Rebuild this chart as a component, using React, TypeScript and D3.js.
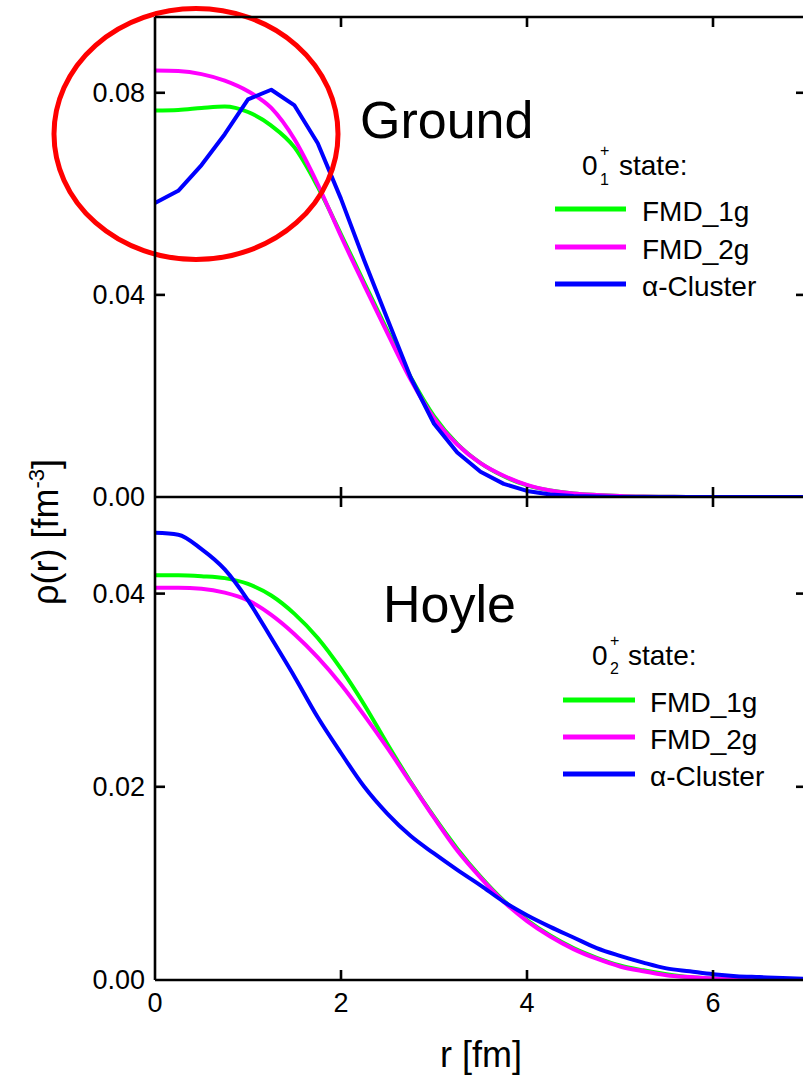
import React from 'react';
import * as d3 from 'd3';

// r grid [fm]
const R = [0, 0.25, 0.5, 0.75, 1, 1.25, 1.5, 1.75, 2, 2.25, 2.5, 2.75, 3, 3.25, 3.5, 3.75, 4, 4.25, 4.5, 4.75, 5, 5.25, 5.5, 5.75, 6, 6.25, 6.5, 6.75, 7];

// Ground state 0+_1 densities
const groundFMD1g = [0.0765, 0.0766, 0.0770, 0.0773, 0.0762, 0.0735, 0.0692, 0.0614, 0.0520, 0.0424, 0.0329, 0.0237, 0.0160, 0.0105, 0.0067, 0.0041, 0.0023, 0.0013, 0.0007, 0.0004, 0.0002, 0.0001, 0.00005, 0, 0, 0, 0, 0, 0];
const groundFMD2g = [0.0844, 0.0843, 0.0837, 0.0824, 0.0803, 0.0770, 0.0708, 0.0619, 0.0516, 0.0419, 0.0324, 0.0232, 0.0156, 0.0104, 0.0067, 0.0042, 0.0024, 0.0013, 0.0007, 0.0004, 0.0002, 0.0001, 0.00005, 0, 0, 0, 0, 0, 0];
const groundCluster = [0.0582, 0.0606, 0.0657, 0.0718, 0.0787, 0.0806, 0.0775, 0.0700, 0.0590, 0.0468, 0.0352, 0.0236, 0.0145, 0.0088, 0.0050, 0.0026, 0.0012, 0.0005, 0.0002, 0.0001, 0, 0, 0, 0, 0, 0, 0, 0, 0];

// Hoyle state 0+_2 densities
const hoyleFMD1g = [0.0419, 0.0419, 0.0418, 0.0416, 0.0410, 0.0398, 0.0379, 0.0354, 0.0322, 0.0285, 0.0244, 0.0205, 0.0169, 0.0136, 0.0107, 0.0082, 0.0062, 0.0046, 0.0033, 0.0023, 0.0015, 0.0010, 0.0006, 0.0003, 0.00015, 0.0001, 0.00005, 0, 0];
const hoyleFMD2g = [0.0406, 0.0406, 0.0405, 0.0401, 0.0393, 0.0378, 0.0358, 0.0334, 0.0306, 0.0274, 0.0240, 0.0204, 0.0168, 0.0134, 0.0106, 0.0081, 0.0061, 0.0045, 0.0032, 0.0022, 0.0014, 0.0009, 0.0005, 0.0003, 0.00015, 0.0001, 0.00005, 0, 0];
const hoyleCluster = [0.0463, 0.0461, 0.0446, 0.0425, 0.0393, 0.0354, 0.0314, 0.0272, 0.0235, 0.0200, 0.0172, 0.0149, 0.0131, 0.0114, 0.0098, 0.0081, 0.0067, 0.0055, 0.0044, 0.0033, 0.0025, 0.0018, 0.0012, 0.0009, 0.0006, 0.0004, 0.0003, 0.0002, 0.00013];

const xTicks = [0, 2, 4, 6];
const topYTicks = [0.04, 0.08];
const botYTicks = [0.02, 0.04];
const seriesNames = ['FMD_1g', 'FMD_2g', 'α-Cluster'];
const seriesColors = ['#00ff00', '#ff00ff', '#0000ff'];

const FONT = '"Liberation Sans", Arial, Helvetica, sans-serif';

export default function App() {
  const W = 803, H = 1082;
  const left = 155, right = 806, top = 17, mid = 497, bottom = 980;
  const x = d3.scaleLinear().domain([0, 7]).range([left, right]);
  const yTop = d3.scaleLinear().domain([0, 0.095]).range([mid, top]);
  const yBot = d3.scaleLinear().domain([0, 0.05]).range([bottom, mid]);

  const mk = (y: d3.ScaleLinear<number, number>, curve: d3.CurveFactory) =>
    d3.line<number>().x((_, i) => x(R[i])).y((d) => y(d)).curve(curve);

  const topLines = [
    { d: mk(yTop, d3.curveMonotoneX)(groundFMD1g), c: seriesColors[0] },
    { d: mk(yTop, d3.curveMonotoneX)(groundFMD2g), c: seriesColors[1] },
    { d: mk(yTop, d3.curveLinear)(groundCluster), c: seriesColors[2] },
  ];
  const botLines = [
    { d: mk(yBot, d3.curveMonotoneX)(hoyleFMD1g), c: seriesColors[0] },
    { d: mk(yBot, d3.curveMonotoneX)(hoyleFMD2g), c: seriesColors[1] },
    { d: mk(yBot, d3.curveMonotoneX)(hoyleCluster), c: seriesColors[2] },
  ];

  const axisW = 2.6;
  const tickLen = 10;
  const tickFs = 27;

  const legend = (lineX0: number, lineX1: number, textX: number, ys: number[]) =>
    seriesNames.map((n, i) => (
      <g key={n}>
        <line x1={lineX0} x2={lineX1} y1={ys[i]} y2={ys[i]} stroke={seriesColors[i]} strokeWidth={5} />
        <text x={textX} y={ys[i] + 12} fontSize={28} fontFamily={FONT} fill="#000">{n}</text>
      </g>
    ));

  return (
    <svg width={W} height={H} style={{ position: 'absolute', left: 0, top: 0, background: '#fff' }}>
      <defs>
        <clipPath id="clipTop"><rect x={left} y={top} width={right - left} height={mid - top} /></clipPath>
        <clipPath id="clipBot"><rect x={left} y={mid} width={right - left} height={bottom - mid} /></clipPath>
      </defs>
      <rect x={0} y={0} width={W} height={H} fill="#fff" />

      {/* curves */}
      <g clipPath="url(#clipTop)" fill="none" strokeWidth={4} strokeLinejoin="round">
        {topLines.map((l, i) => <path key={i} d={l.d || ''} stroke={l.c} />)}
      </g>
      <g clipPath="url(#clipBot)" fill="none" strokeWidth={4} strokeLinejoin="round">
        {botLines.map((l, i) => <path key={i} d={l.d || ''} stroke={l.c} />)}
      </g>

      {/* red ellipse */}
      <ellipse cx={196} cy={134} rx={142} ry={125.5} fill="none" stroke="#ff0000" strokeWidth={5} />

      {/* frame */}
      <g stroke="#000" strokeWidth={axisW} fill="none">
        <line x1={left} x2={left} y1={top} y2={bottom} />
        <line x1={right} x2={right} y1={top} y2={bottom} />
        <line x1={left} x2={right} y1={top} y2={top} />
        <line x1={left} x2={right} y1={mid} y2={mid} />
        <line x1={left} x2={right} y1={bottom} y2={bottom} />
        {xTicks.filter((t) => t > 0).map((t) => (
          <g key={t}>
            <line x1={x(t)} x2={x(t)} y1={top} y2={top + tickLen} />
            <line x1={x(t)} x2={x(t)} y1={mid - tickLen} y2={mid + tickLen} />
            <line x1={x(t)} x2={x(t)} y1={bottom - tickLen} y2={bottom} />
          </g>
        ))}
        {topYTicks.map((t) => (
          <g key={'t' + t}>
            <line x1={left} x2={left + tickLen} y1={yTop(t)} y2={yTop(t)} />
            <line x1={right - tickLen} x2={right} y1={yTop(t)} y2={yTop(t)} />
          </g>
        ))}
        {botYTicks.map((t) => (
          <g key={'b' + t}>
            <line x1={left} x2={left + tickLen} y1={yBot(t)} y2={yBot(t)} />
            <line x1={right - tickLen} x2={right} y1={yBot(t)} y2={yBot(t)} />
          </g>
        ))}
      </g>

      {/* tick labels */}
      <g fontFamily={FONT} fontSize={tickFs} fill="#000">
        {[0, ...topYTicks].map((t) => (
          <text key={'tl' + t} x={left - 10} y={yTop(t)} textAnchor="end" dominantBaseline="central">{t.toFixed(2)}</text>
        ))}
        {[0, ...botYTicks].map((t) => (
          <text key={'bl' + t} x={left - 10} y={yBot(t)} textAnchor="end" dominantBaseline="central">{t.toFixed(2)}</text>
        ))}
        {xTicks.map((t) => (
          <text key={'xl' + t} x={x(t)} y={1012} textAnchor="middle">{t}</text>
        ))}
      </g>

      {/* axis titles */}
      <text x={481} y={1067} textAnchor="middle" fontFamily={FONT} fontSize={36}>r [fm]</text>
      <text transform="translate(58,532) rotate(-90)" textAnchor="middle" fontFamily={FONT} fontSize={36}>
        ρ(r) [fm<tspan fontSize={22} dy={-14}>-3</tspan><tspan dy={14}>]</tspan>
      </text>

      {/* panel labels */}
      <text x={360} y={138} fontFamily={FONT} fontSize={52}>Ground</text>
      <text x={383} y={622} fontFamily={FONT} fontSize={52}>Hoyle</text>

      {/* top legend */}
      <g fontFamily={FONT} fill="#000">
        <text x={582} y={175} fontSize={28}>0</text>
        <text x={600} y={156} fontSize={16}>+</text>
        <text x={600} y={185} fontSize={16}>1</text>
        <text x={619} y={175} fontSize={28}>state:</text>
      </g>
      {legend(555, 626, 642, [209, 247, 284])}

      {/* bottom legend */}
      <g fontFamily={FONT} fill="#000">
        <text x={592} y={665} fontSize={28}>0</text>
        <text x={610} y={646} fontSize={16}>+</text>
        <text x={610} y={674} fontSize={16}>2</text>
        <text x={628} y={665} fontSize={28}>state:</text>
      </g>
      {legend(563, 635, 650, [700, 737, 774])}
    </svg>
  );
}
